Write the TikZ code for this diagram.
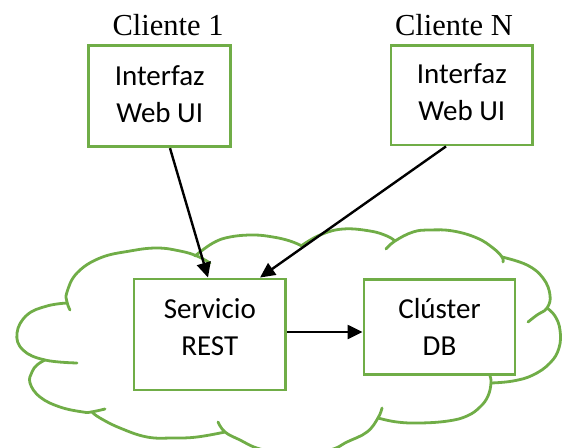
\documentclass[tikz,border=0pt]{standalone}
\usepackage{fontspec}
\setmainfont{Carlito}
\newfontfamily\titlefont{Liberation Serif}
\usetikzlibrary{arrows.meta}
\definecolor{leaf}{HTML}{70AD47}
% invisible depth below the last line, used to lift a text block inside its box
\newcommand{\padbelow}[1]{\rule[-#1]{0pt}{#1}}
\begin{document}
\begin{tikzpicture}[x=1pt,y=-1pt,
  box/.style={draw=leaf, line width=2.9pt, minimum width=#1, inner sep=0pt,
              align=center, font=\fontsize{29}{37}\selectfont},
  title/.style={anchor=base, inner sep=0pt, font=\titlefont\fontsize{30.5}{36}\selectfont},
  arr/.style={draw=black, line width=2.4pt, -{Triangle[length=15pt,width=14pt]}},
  cloudline/.style={draw=leaf, line width=2.8pt, line cap=round}]
\useasboundingbox (0,0) rectangle (562,447);
\begin{scope}
\clip (0,0) rectangle (562,447);
% cloud outline: one smooth arc per lobe, with the short inner tails
\draw[cloudline] plot[smooth, tension=0.7] coordinates {(77,363) (45,360) (23,350) (17,333) (27,315) (47,306) (67,303)};
\draw[cloudline] plot[smooth, tension=0.7] coordinates {(70,310) (67,302) (67,292) (77,273) (100,258) (130,251) (157,248) (180,251) (197,256) (210,263)};
\draw[cloudline] plot[smooth, tension=0.7] coordinates {(195,256) (213,243) (230,237) (253,235) (273,237) (290,241) (302,246)};
\draw[cloudline] plot[smooth, tension=0.7] coordinates {(301,246) (320,235) (343,229) (370,231) (387,236) (395,241)};
\draw[cloudline] plot[smooth, tension=0.7] coordinates {(386,249) (395,241) (413,232) (430,230) (453,231) (477,238) (493,248) (502,257) (503,262)};
\draw[cloudline] plot[smooth, tension=0.7] coordinates {(502,257) (527,265) (543,278) (550,295) (547,308) (537,315) (528,322)};
\draw[cloudline] plot[smooth, tension=0.7] coordinates {(547,308) (555,316) (560,330) (559,348) (550,363) (533,375) (513,381) (491,383)};
\draw[cloudline] plot[smooth, tension=0.7] coordinates {(490,376) (491,383) (488,396) (480,407) (467,416) (448,421) (420,423) (397,422) (378,418)};
\draw[cloudline] plot[smooth, tension=0.7] coordinates {(382,408) (378,418) (367,432) (347,442) (330,450) (295,456) (260,449) (240,440) (225,432) (218,422)};
\draw[cloudline] plot[smooth, tension=0.7] coordinates {(225,432) (197,437) (173,438) (147,437) (120,428) (100,418) (92,412)};
\draw[cloudline] plot[smooth, tension=0.7] coordinates {(105,409) (91,412) (83,412) (60,407) (40,397) (30,383) (32,372) (37,365) (45,360)};
\end{scope}

% client titles
\node[title] (t1) at (168,35) {Cliente 1};
\node[title] (tn) at (454,35) {Cliente N};

% boxes
\node[box=142pt, minimum height=101pt] (c1) at (159.7,96.2) {Interfaz\\Web UI\padbelow{5pt}};
\node[box=141.7pt, minimum height=99.3pt] (cn) at (461.8,95.3) {Interfaz\\Web UI\padbelow{7pt}};
\node[box=151.7pt, minimum height=111pt] (rest) at (209.8,334.5) {Servicio\\REST\padbelow{14pt}};
\node[box=151pt, minimum height=95pt] (db) at (439.5,326.8) {Clúster\\DB};

% connectors
\coordinate (restout) at ([yshift=2.5pt]rest.east);
\draw[arr] ([xshift=10.3pt]c1.south) -- ([xshift=-1.8pt]rest.north);
\draw[arr] ([xshift=-15.8pt]cn.south) -- ([xshift=50.2pt]rest.north);
\draw[arr] (restout) -- (restout -| db.west);
\end{tikzpicture}
\end{document}
